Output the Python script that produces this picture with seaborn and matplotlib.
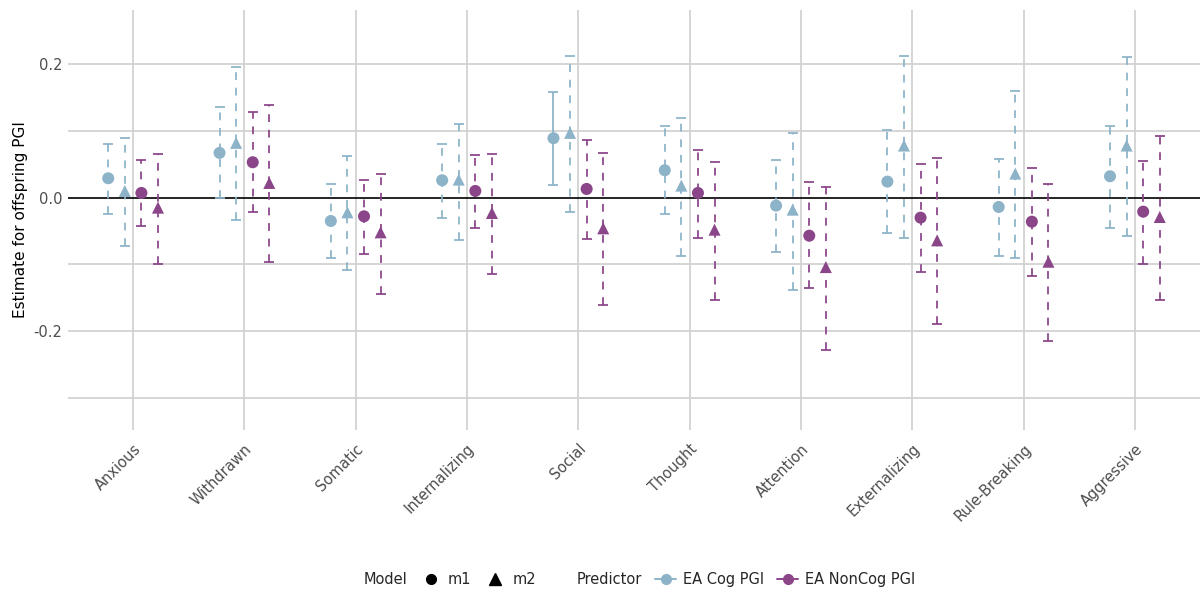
import numpy as np
import pandas as pd
import matplotlib
matplotlib.use("Agg")
import matplotlib.pyplot as plt
from matplotlib.lines import Line2D
import seaborn as sns

categories = ["Anxious", "Withdrawn", "Somatic", "Internalizing", "Social",
              "Thought", "Attention", "Externalizing", "Rule-Breaking", "Aggressive"]

# EA Cog PGI, model m1
cog_m1_est = [0.029, 0.067, -0.035, 0.026, 0.089, 0.041, -0.012, 0.024, -0.014, 0.032]
cog_m1_lo  = [-0.024, 0.000, -0.090, -0.030, 0.019, -0.025, -0.082, -0.053, -0.087, -0.045]
cog_m1_hi  = [0.081, 0.135, 0.020, 0.081, 0.158, 0.107, 0.057, 0.102, 0.058, 0.108]
# EA Cog PGI, model m2
cog_m2_est = [0.010, 0.082, -0.022, 0.027, 0.097, 0.018, -0.018, 0.078, 0.036, 0.078]
cog_m2_lo  = [-0.072, -0.034, -0.109, -0.064, -0.022, -0.088, -0.139, -0.061, -0.091, -0.058]
cog_m2_hi  = [0.090, 0.195, 0.062, 0.111, 0.212, 0.119, 0.097, 0.212, 0.159, 0.210]
# EA NonCog PGI, model m1
non_m1_est = [0.007, 0.053, -0.028, 0.010, 0.013, 0.007, -0.057, -0.030, -0.036, -0.021]
non_m1_lo  = [-0.043, -0.022, -0.084, -0.045, -0.062, -0.060, -0.136, -0.111, -0.117, -0.099]
non_m1_hi  = [0.057, 0.128, 0.026, 0.064, 0.087, 0.072, 0.023, 0.051, 0.045, 0.055]
# EA NonCog PGI, model m2
non_m2_est = [-0.015, 0.022, -0.052, -0.023, -0.046, -0.048, -0.104, -0.064, -0.096, -0.029]
non_m2_lo  = [-0.100, -0.096, -0.144, -0.114, -0.161, -0.154, -0.228, -0.190, -0.215, -0.154]
non_m2_hi  = [0.066, 0.138, 0.035, 0.065, 0.067, 0.053, 0.016, 0.060, 0.021, 0.093]

# significance (solid error bar) flags
cog_m1_sig = [False, False, False, False, True, False, False, False, False, False]

predictors = ["EA Cog PGI", "EA NonCog PGI"]
models = ["m1", "m2"]

rows = []
series = [
    ("EA Cog PGI", "m1", cog_m1_est, cog_m1_lo, cog_m1_hi, cog_m1_sig),
    ("EA Cog PGI", "m2", cog_m2_est, cog_m2_lo, cog_m2_hi, [False] * 10),
    ("EA NonCog PGI", "m1", non_m1_est, non_m1_lo, non_m1_hi, [False] * 10),
    ("EA NonCog PGI", "m2", non_m2_est, non_m2_lo, non_m2_hi, [False] * 10),
]
for k, (pred, mod, est, lo, hi, sig) in enumerate(series):
    for i, c in enumerate(categories):
        rows.append(dict(Outcome=c, idx=i, group=k, Predictor=pred, Model=mod,
                         est=est[i], lo=lo[i], hi=hi[i], sig=sig[i]))
df = pd.DataFrame(rows)

dodge = 0.149
df["x"] = df["idx"] + (df["group"] - 1.5) * dodge

palette = {"EA Cog PGI": "#8DB3C9", "EA NonCog PGI": "#8B4589"}

sns.set_theme(style="white")
plt.rcParams['font.family'] = ['DejaVu Sans']

fig, ax = plt.subplots(figsize=(12.03, 5.95), dpi=100)
fig.subplots_adjust(left=68 / 1203, right=1200 / 1203, top=1 - 10 / 595, bottom=1 - 430 / 595)

# grid
for yv in [-0.3, -0.2, -0.1, 0.1, 0.2]:
    ax.axhline(yv, color="#D2D2D2", lw=1.3, zorder=0)
for i in range(len(categories)):
    ax.axvline(i, color="#D2D2D2", lw=1.3, zorder=0)
ax.axhline(0, color="black", lw=1.2, zorder=1)

# error bars
for _, r in df.iterrows():
    eb = ax.errorbar(r["x"], r["est"], yerr=[[r["est"] - r["lo"]], [r["hi"] - r["est"]]],
                     fmt="none", ecolor=palette[r["Predictor"]], elinewidth=1.4,
                     capsize=3.5, capthick=1.4, alpha=0.9, zorder=2)
    if not r["sig"]:
        for lc in eb[2]:
            lc.set_linestyle((0, (4, 4)))

sns.scatterplot(data=df, x="x", y="est", hue="Predictor", style="Model",
                markers={"m1": "o", "m2": "^"}, palette=palette,
                s=75, linewidth=0, legend=False, ax=ax, zorder=3)

ax.set_xlim(-0.585, len(categories) - 1 + 0.585)
ax.set_ylim(-0.348, 0.281)
ax.set_xticks(range(len(categories)))
ax.set_xticklabels(categories, rotation=45, ha="right", rotation_mode="anchor",
                   fontsize=10.5, color="#4D4D4D")
ax.set_yticks([-0.2, 0.0, 0.2])
ax.set_yticklabels(["-0.2", "0.0", "0.2"], fontsize=10.5, color="#4D4D4D")
ax.tick_params(axis="both", length=0, pad=4)
ax.tick_params(axis="x", pad=8)
ax.set_xlabel("")
ax.set_ylabel("Estimate for offspring PGI", fontsize=11, color="black")
for s in ax.spines.values():
    s.set_visible(False)
ax.grid(False)

blank = Line2D([], [], linestyle="none", marker=None)
handles = [
    blank,
    Line2D([], [], linestyle="none", marker="o", color="black", markersize=7),
    Line2D([], [], linestyle="none", marker="^", color="black", markersize=8),
    blank,
    Line2D([], [], linestyle="-", marker="o", color=palette["EA Cog PGI"], markersize=7, lw=1.4),
    Line2D([], [], linestyle="-", marker="o", color=palette["EA NonCog PGI"], markersize=7, lw=1.4),
]
labels = ["Model", "m1", "m2", "Predictor", "EA Cog PGI", "EA NonCog PGI"]
leg = fig.legend(handles, labels, loc="center", bbox_to_anchor=(0.52, 0.026), ncol=6,
                 frameon=False, fontsize=10.5, handlelength=1.4, handletextpad=0.5,
                 columnspacing=0.9)
fig.savefig("out.png", dpi=100)
